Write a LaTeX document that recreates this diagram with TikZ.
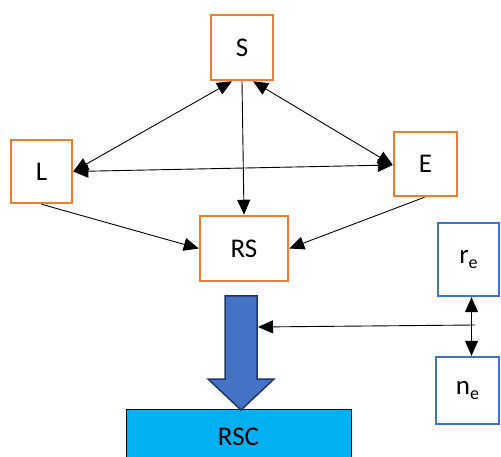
\documentclass[tikz,border=0pt]{standalone}
\usepackage{fontspec}
\setmainfont{Carlito}
\usetikzlibrary{arrows.meta,calc}
\definecolor{borange}{HTML}{ED7D31}
\definecolor{bblue}{HTML}{4472C4}
\definecolor{dnavy}{HTML}{1F3864}
\definecolor{cyanfill}{HTML}{00B0F0}
\begin{document}
\begin{tikzpicture}[x=1pt,y=-1pt,
  obox/.style={draw=borange,line width=2.5pt,fill=white,inner sep=0pt,font=\fontsize{27}{32}\selectfont},
  bbox/.style={draw=bblue,line width=2.3pt,fill=white,inner sep=0pt,font=\fontsize{27}{32}\selectfont},
  conn/.style={draw=black,line width=0.9pt},
  tip/.style={-{Triangle[length=15pt,width=13pt]}},
  tips/.style={{Triangle[length=15pt,width=13pt]}-{Triangle[length=15pt,width=13pt]}}]
\useasboundingbox (0,0) rectangle (501,457);
\node[obox,minimum width=62pt,minimum height=65pt] (S) at (242,47.5) {S};
\node[obox,minimum width=61pt,minimum height=63pt] (L) at (41.5,171.5) {L};
\node[obox,minimum width=63pt,minimum height=64pt] (E) at (425.5,164) {E};
\node[obox,minimum width=88pt,minimum height=65pt] (RS) at (244,248.5) {RS};
\node[bbox,minimum width=61pt,minimum height=73pt] (re) at (468.5,259.5) {r\raisebox{-0.35ex}{\fontsize{18}{20}\selectfont e}};
\node[bbox,minimum width=63pt,minimum height=67pt] (ne) at (467.5,390.5) {n\raisebox{-0.35ex}{\fontsize{18}{20}\selectfont e}};
\node[draw=black,line width=1pt,fill=cyanfill,minimum width=225pt,minimum height=62pt,inner sep=0pt,font=\fontsize{27}{32}\selectfont] (RSC) at (238.5,440) {};
\node[font=\fontsize{27}{32}\selectfont,inner sep=0pt] (RSCt) at (238.5,437) {RSC};
% big blue arrow
\draw[draw=dnavy,line width=1.5pt,fill=bblue,line join=miter]
  (225,296) -- (257,296) -- (257,379) -- (274,379) -- (241,410) -- (208,379) -- (225,379) -- cycle;
\coordinate (barrow) at (258,327);
% connectors
\draw[conn,tips] ([xshift=-10pt]S.south) -- (L.east);
\draw[conn,tips] ([xshift=11pt]S.south) -- ([yshift=-1pt]E.west);
\draw[conn,tips] (L.east) -- ([yshift=-1pt]E.west);
\draw[conn,tip] (S.south) -- (RS.north);
\draw[conn,tip] (L.south) -- (RS.west);
\draw[conn,tip] ([xshift=-1pt]E.south) -- (RS.east);
\draw[conn,tips] ([xshift=3pt]re.south) -- ([xshift=4pt]ne.north);
\coordinate (mid) at (475,325);
\draw[conn,tip] (mid) -- (barrow);
\end{tikzpicture}
\end{document}
